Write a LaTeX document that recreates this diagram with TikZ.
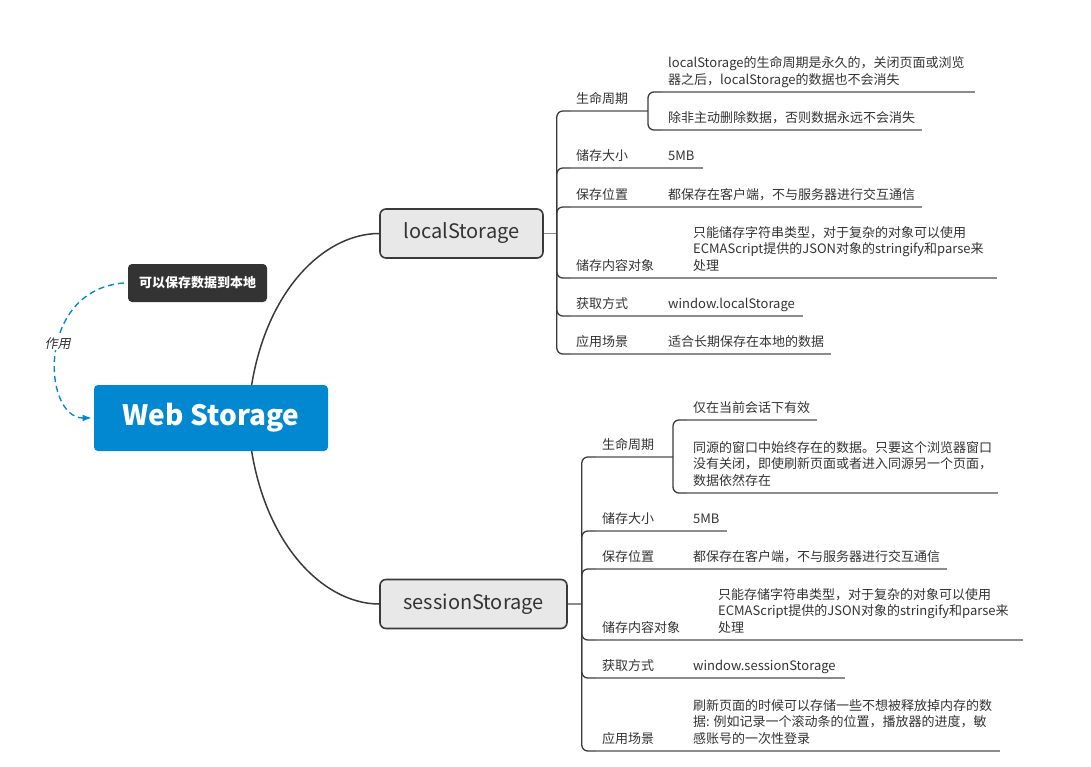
\documentclass[tikz,border=0pt]{standalone}
\usepackage{fontspec}
\setmainfont{Noto Sans CJK SC}
\newfontfamily\slantfont[FakeSlant=0.2]{Noto Sans CJK SC}
\usepackage{xcolor}
\usetikzlibrary{calc,backgrounds}
\usetikzlibrary{arrows.meta}
\tikzset{>=Latex}
\definecolor{wsblue}{HTML}{0288D1}
\definecolor{notegray}{HTML}{333333}
\definecolor{topicgray}{HTML}{E8E8E8}
\definecolor{linedark}{HTML}{3A3A3A}
\definecolor{linegray}{HTML}{8C8C8C}
\definecolor{textgray}{HTML}{333333}

\begin{document}
\begin{tikzpicture}[x=1pt,y=-1pt,
		rootnode/.style = {fill=wsblue, rounded corners=4pt, text=white,
			font=\fontsize{28}{30}\selectfont\bfseries,
			minimum width=234pt, minimum height=66pt, inner sep=0pt},
		notenode/.style = {fill=notegray, rounded corners=4pt, text=white,
			font=\fontsize{13}{15}\selectfont\bfseries,
			minimum width=139pt, minimum height=38pt, inner sep=0pt},
		topic/.style = {fill=topicgray, draw=linedark, line width=1.6pt,
			rounded corners=6pt, text=textgray,
			font=\fontsize{20}{22}\selectfont, minimum height=49pt, inner sep=0pt},
		leaf/.style = {anchor=base west, inner sep=0pt, text=textgray,
			font=\fontsize{13}{16.5}\selectfont, align=left},
		spine/.style = {draw=linedark, line width=1.3pt, rounded corners=6pt},
		under/.style = {draw=linegray, line width=1.3pt},
		]
		\useasboundingbox (0,0) rectangle (1091,766);
		\node[rootnode] (root) at (211,418) {Web Storage};
		\node[notenode] (note) at (197.5,283) {可以保存数据到本地};
		\node[topic, minimum width=163pt] (local) at (461.5,233.5) {localStorage};
		\node[topic, minimum width=187pt] (session) at (473.5,604) {sessionStorage};
		\coordinate (hub) at ($(root.center)+(37,0)$);
		\begin{scope}[on background layer]
			\draw[linedark, line width=1.5pt] (hub) .. controls (255,300) and (320,233.5) .. (local.west);
			\draw[linedark, line width=1.5pt] (hub) .. controls (255,536) and (320,604) .. (session.west);
		\end{scope}
		% note -> root
		\draw[->, wsblue, line width=1.4pt, dash pattern=on 6pt off 4pt]
			($(note.west)+(-4,0)$) .. controls (36,290) and (42,418) .. ($(root.west)+(-2,0)$)
			node[pos=0.45, fill=white, inner sep=1pt, text=textgray,
				font=\fontsize{13}{15}\selectfont\slantfont] (role) {作用};
		
		% localStorage branch
		\coordinate (lsSpine) at ($(local.east)+(13,0)$);
		\draw[under] (local.east) -- (lsSpine);
		\foreach \y/\e/\t [count=\i] in {111/648/生命周期, 168/703/储存大小, 207/922/保存位置,
			278/997/储存内容对象, 316/803/获取方式, 354/831/应用场景}
		{
			\draw[spine] (lsSpine) |- ++(14,\y-233.5);
			\draw[under] ($(lsSpine)+(14,\y-233.5)$) -- (\e,\y);
			\node[leaf] (lsLab\i) at (576,\y-8) {\t};
		};
		\coordinate (lsLife) at (648,111);
		\draw[spine] (lsLife) |- ++(14,-19);
		\draw[under] ($(lsLife)+(14,-19)$) -- (975,92);
		\draw[spine] (lsLife) |- ++(14,19);
		\draw[under] ($(lsLife)+(14,19)$) -- (922,130);
		\foreach \x/\y/\t [count=\i] in {
			668/84/{localStorage的生命周期是永久的，关闭页面或浏览\\器之后，localStorage的数据也不会消失},
			668/122/{除非主动删除数据，否则数据永远不会消失},
			668/160/{5MB},
			668/199/{都保存在客户端，不与服务器进行交互通信},
			693/270/{只能储存字符串类型，对于复杂的对象可以使用\\ECMAScript提供的JSON对象的stringify和parse来\\处理},
			668/308/{window.localStorage},
			668/346/{适合长期保存在本地的数据}}
		{
			\node[leaf] (lsVal\i) at (\x,\y) {\t};
		};
		
		% sessionStorage branch
		\coordinate (ssSpine) at ($(session.east)+(14,0)$);
		\draw[under] (session.east) -- (ssSpine);
		\foreach \y/\e/\t [count=\i] in {457/673/生命周期, 531/727/储存大小, 569/947/保存位置,
			640/1023/储存内容对象, 678/845/获取方式, 751/1000/应用场景}
		{
			\draw[spine] (ssSpine) |- ++(14,\y-604);
			\draw[under] ($(ssSpine)+(14,\y-604)$) -- (\e,\y);
			\node[leaf] (ssLab\i) at (602,\y-8) {\t};
		};
		\coordinate (ssLife) at (673,457);
		\draw[spine] (ssLife) |- ++(14,-37);
		\draw[under] ($(ssLife)+(14,-37)$) -- (817,420);
		\draw[spine] (ssLife) |- ++(14,36);
		\draw[under] ($(ssLife)+(14,36)$) -- (998,493);
		\foreach \x/\y/\t [count=\i] in {
			693/412/{仅在当前会话下有效},
			693/485/{同源的窗口中始终存在的数据。只要这个浏览器窗口\\没有关闭，即使刷新页面或者进入同源另一个页面，\\数据依然存在},
			693/523/{5MB},
			693/561/{都保存在客户端，不与服务器进行交互通信},
			718/632/{只能存储字符串类型，对于复杂的对象可以使用\\ECMAScript提供的JSON对象的stringify和parse来\\处理},
			693/670/{window.sessionStorage},
			693/743/{刷新页面的时候可以存储一些不想被释放掉内存的数\\据: 例如记录一个滚动条的位置，播放器的进度，敏\\感账号的一次性登录}}
		{
			\node[leaf] (ssVal\i) at (\x,\y) {\t};
		};
	\end{tikzpicture}
\end{document}
